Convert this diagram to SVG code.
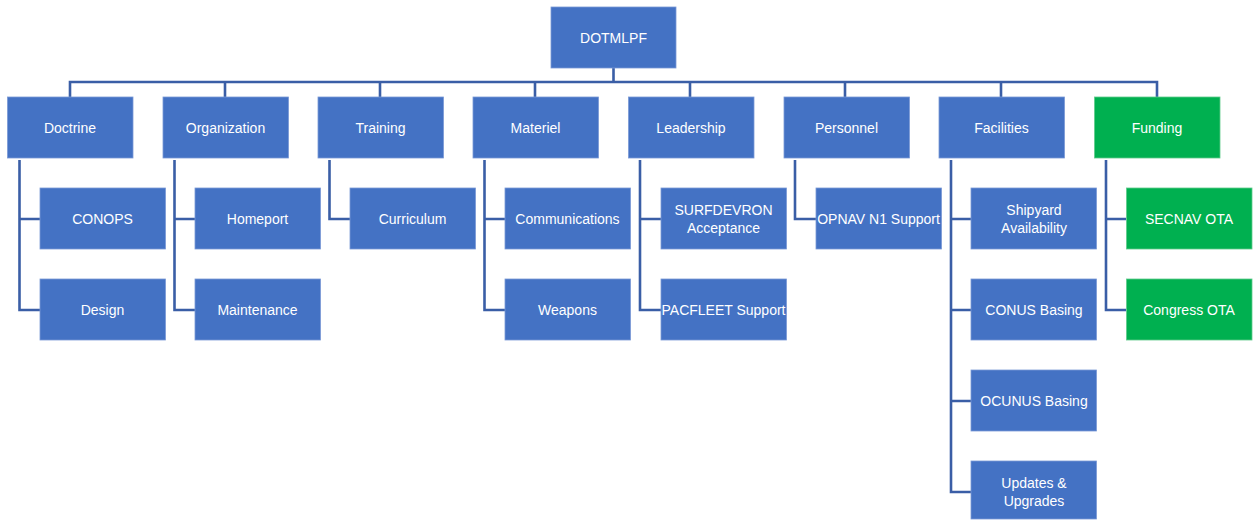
<svg xmlns="http://www.w3.org/2000/svg" width="1253" height="520" viewBox="0 0 1253 520">
<style>
.b{fill:#4472C4;stroke:#7A9AD6;stroke-width:0.8}
.g{fill:#00B050;stroke:#5FCB8A;stroke-width:0.8}
.t{fill:#FFFFFF;font-family:"Liberation Sans",Arial,sans-serif;font-size:14px;text-anchor:middle;dominant-baseline:central}
.c{fill:none;stroke:#3A5EA6;stroke-width:2.6}
</style>
<rect width="1253" height="520" fill="#FFFFFF"/>
<g id="connectors">
<path class="c" d="M613.5 68V82M70 97V82H1157V97M225 82V97M380 82V97M535 82V97M690 82V97M845 82V97M1001 82V97"/>
<path class="c" d="M19.5 160V310H40M19.5 219H40"/>
<path class="c" d="M174.5 160V310H195M174.5 219H195"/>
<path class="c" d="M329.5 160V219H350"/>
<path class="c" d="M484.5 160V310H505M484.5 219H505"/>
<path class="c" d="M640 160V310H661M640 219H661"/>
<path class="c" d="M795 160V219H816"/>
<path class="c" d="M951 160V492H971M951 219H971M951 310H971M951 401H971"/>
<path class="c" d="M1106 160V310H1126M1106 219H1126"/>
</g>
<g id="n-dotmlpf"><rect class="b" x="551" y="7" width="125" height="61"/><text class="t" x="613.5" y="37.5">DOTMLPF</text></g>
<g id="n-doctrine"><rect class="b" x="7.5" y="97" width="125.5" height="61"/><text class="t" x="70" y="127.5">Doctrine</text></g>
<g id="n-organization"><rect class="b" x="163" y="97" width="125.5" height="61"/><text class="t" x="225.5" y="127.5">Organization</text></g>
<g id="n-training"><rect class="b" x="318" y="97" width="125.5" height="61"/><text class="t" x="380.5" y="127.5">Training</text></g>
<g id="n-materiel"><rect class="b" x="473" y="97" width="125.5" height="61"/><text class="t" x="535.5" y="127.5">Materiel</text></g>
<g id="n-leadership"><rect class="b" x="628.5" y="97" width="125.5" height="61"/><text class="t" x="691" y="127.5">Leadership</text></g>
<g id="n-personnel"><rect class="b" x="784" y="97" width="125.5" height="61"/><text class="t" x="846.5" y="127.5">Personnel</text></g>
<g id="n-facilities"><rect class="b" x="939" y="97" width="125.5" height="61"/><text class="t" x="1001.5" y="127.5">Facilities</text></g>
<g id="n-funding"><rect class="g" x="1094.5" y="97" width="125.5" height="61"/><text class="t" x="1157" y="127.5">Funding</text></g>
<g id="n-conops"><rect class="b" x="40" y="188" width="125.5" height="61"/><text class="t" x="102.5" y="218.5">CONOPS</text></g>
<g id="n-design"><rect class="b" x="40" y="279" width="125.5" height="61"/><text class="t" x="102.5" y="309.5">Design</text></g>
<g id="n-homeport"><rect class="b" x="195" y="188" width="125.5" height="61"/><text class="t" x="257.5" y="218.5">Homeport</text></g>
<g id="n-maintenance"><rect class="b" x="195" y="279" width="125.5" height="61"/><text class="t" x="257.5" y="309.5">Maintenance</text></g>
<g id="n-curriculum"><rect class="b" x="350" y="188" width="125.5" height="61"/><text class="t" x="412.5" y="218.5">Curriculum</text></g>
<g id="n-communications"><rect class="b" x="505" y="188" width="125.5" height="61"/><text class="t" x="567.5" y="218.5">Communications</text></g>
<g id="n-weapons"><rect class="b" x="505" y="279" width="125.5" height="61"/><text class="t" x="567.5" y="309.5">Weapons</text></g>
<g id="n-surfdevron"><rect class="b" x="661" y="188" width="125.5" height="61"/><text class="t" x="723.5" y="209.5">SURFDEVRON</text><text class="t" x="723.5" y="227.5">Acceptance</text></g>
<g id="n-pacfleet"><rect class="b" x="661" y="279" width="125.5" height="61"/><text class="t" x="723.5" y="309.5">PACFLEET Support</text></g>
<g id="n-opnav"><rect class="b" x="816" y="188" width="125.5" height="61"/><text class="t" x="878.5" y="218.5">OPNAV N1 Support</text></g>
<g id="n-shipyard"><rect class="b" x="971" y="188" width="125.5" height="61"/><text class="t" x="1034" y="209.5">Shipyard</text><text class="t" x="1034" y="227.5">Availability</text></g>
<g id="n-conus"><rect class="b" x="971" y="279" width="125.5" height="61"/><text class="t" x="1034" y="309.5">CONUS Basing</text></g>
<g id="n-ocunus"><rect class="b" x="971" y="370" width="125.5" height="61"/><text class="t" x="1034" y="400.5">OCUNUS Basing</text></g>
<g id="n-updates"><rect class="b" x="971" y="461" width="125.5" height="58"/><text class="t" x="1034" y="482.5">Updates &amp;</text><text class="t" x="1034" y="500.5">Upgrades</text></g>
<g id="n-secnav"><rect class="g" x="1126.5" y="188" width="125.5" height="61"/><text class="t" x="1189" y="218.5">SECNAV OTA</text></g>
<g id="n-congress"><rect class="g" x="1126.5" y="279" width="125.5" height="61"/><text class="t" x="1189" y="309.5">Congress OTA</text></g>
</svg>
